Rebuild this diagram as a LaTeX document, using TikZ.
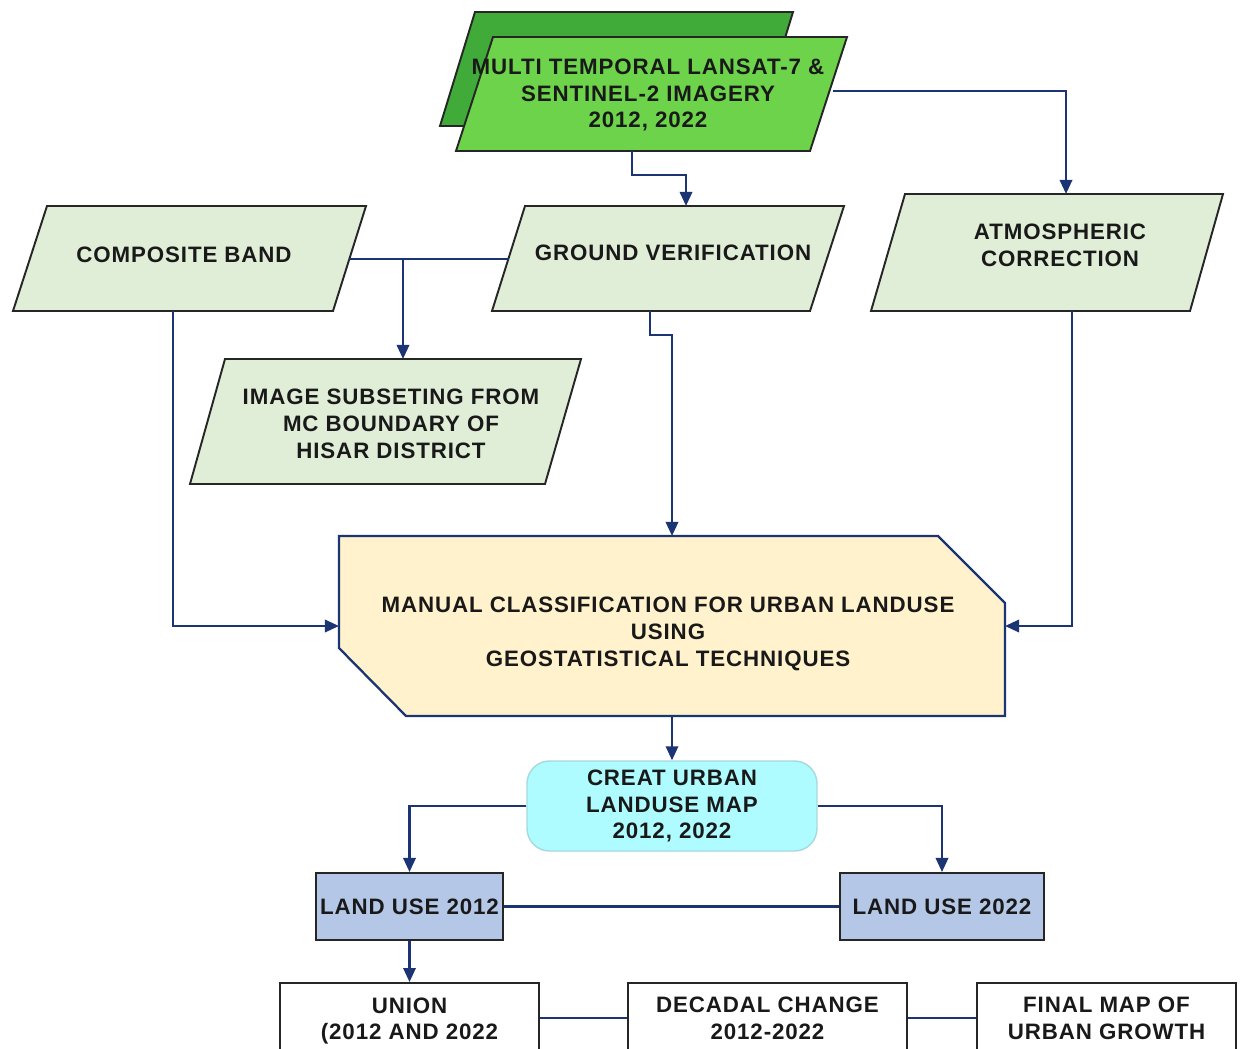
\documentclass[tikz,border=0pt]{standalone}
\usepackage{fontspec}
\setmainfont{Liberation Sans}[LetterSpace=4]
\usetikzlibrary{arrows.meta}
\definecolor{navy}{HTML}{1B3474}
\definecolor{gdark}{HTML}{41AB3A}
\definecolor{glight}{HTML}{6DD34A}
\definecolor{pale}{HTML}{E0EED8}
\definecolor{cream}{HTML}{FFF2CC}
\definecolor{cyanfill}{HTML}{AEFCFF}
\definecolor{cyanline}{HTML}{A6D9DD}
\definecolor{lublue}{HTML}{B4C7E7}
\begin{document}
\begin{tikzpicture}[x=0.02cm,y=-0.02cm,
  lbl/.style={font=\fontsize{12.7}{15.3}\selectfont\bfseries, align=center, inner sep=0pt, text=black!90},
  shp/.style={draw=black!85, line width=1.1pt},
  conn/.style={draw=navy, line width=1.4pt},
  arr/.style={conn, -{Triangle[width=7pt,length=8pt]}},
  boxnode/.style={lbl, draw=black!85, line width=1.1pt, minimum height=1.4cm}]
\useasboundingbox (0,0) rectangle (1240,1048);
\clip (0,0) rectangle (1240,1048);

% top imagery (stacked parallelograms)
\draw[shp, fill=gdark] (475,12) -- (793,12) -- (758,126) -- (440,126) -- cycle;
\draw[shp, fill=glight] (493,37) -- (847,37) -- (810,151) -- (456,151) -- cycle;
\node[lbl] (multi) at (648,95) {MULTI TEMPORAL LANSAT-7 \&\\SENTINEL-2 IMAGERY\\2012, 2022};
\coordinate (m-s) at (632,151);
\coordinate (m-e) at (833,91);

% composite band
\draw[shp, fill=pale] (47,206) -- (366,206) -- (333,311) -- (13,311) -- cycle;
\node[lbl] (cb) at (184,255) {COMPOSITE BAND};
\coordinate (cb-e) at (349,259);
\coordinate (cb-s) at (173,311);

% ground verification
\draw[shp, fill=pale] (525,206) -- (844,206) -- (810,311) -- (492,311) -- cycle;
\node[lbl] (gv) at (673,253) {GROUND VERIFICATION};
\coordinate (gv-n) at (686,206);
\coordinate (gv-w) at (509,259);
\coordinate (gv-s) at (650,311);

% atmospheric correction
\draw[shp, fill=pale] (905,194) -- (1223,194) -- (1190,311) -- (871,311) -- cycle;
\node[lbl] (ac) at (1060,245) {ATMOSPHERIC\\CORRECTION};
\coordinate (ac-n) at (1066,194);
\coordinate (ac-s) at (1072,311);

% image subseting
\draw[shp, fill=pale] (225,359) -- (581,359) -- (545,484) -- (190,484) -- cycle;
\node[lbl] (is) at (391,424) {IMAGE SUBSETING FROM\\MC BOUNDARY OF\\HISAR DISTRICT};
\coordinate (is-n) at (403,359);
\coordinate (br) at (403,259);

% manual classification
\draw[draw=navy, line width=1.3pt, fill=cream] (339,536) -- (938,536) -- (1005,603) -- (1005,716) -- (406,716) -- (339,648) -- cycle;
\node[lbl] (mc) at (668,634) {MANUAL CLASSIFICATION FOR URBAN LANDUSE\\USING\\GEOSTATISTICAL TECHNIQUES};
\coordinate (mc-n) at (672,536);
\coordinate (mc-w) at (339,626);
\coordinate (mc-e) at (1005,626);
\coordinate (mc-s) at (672,716);

% creat urban landuse map
\node[lbl, draw=cyanline, line width=0.8pt, fill=cyanfill, rounded corners=0.45cm,
      minimum width=5.8cm, minimum height=1.8cm] (cu) at (672,806)
      {CREAT URBAN\\LANDUSE MAP\\2012, 2022};

% land use boxes
\node[boxnode, fill=lublue, minimum width=3.74cm, minimum height=1.34cm] (lu12) at (409.5,906.5) {LAND USE 2012};
\node[boxnode, fill=lublue, minimum width=4.08cm, minimum height=1.34cm] (lu22) at (942,906.5) {LAND USE 2022};

% bottom boxes
\node[boxnode, fill=white, minimum width=5.18cm, minimum height=1.52cm] (un) at (409.5,1021) {UNION\\(2012 AND 2022};
\node[boxnode, fill=white, minimum width=5.58cm] (dc) at (767.5,1018) {DECADAL CHANGE\\2012-2022};
\node[boxnode, fill=white, minimum width=5.18cm] (fm) at (1106.5,1018) {FINAL MAP OF\\URBAN GROWTH};

% connectors
\draw[arr] (m-s) -- ++(0,24) -| (gv-n);
\draw[arr] (m-e) -| (ac-n);
\draw[conn] (cb-e) -- (gv-w);
\draw[arr] (br) -- (is-n);
\draw[arr] (cb-s) |- (mc-w);
\draw[arr] (gv-s) -- ++(0,24) -| (mc-n);
\draw[arr] (ac-s) |- (mc-e);
\draw[arr] (mc-s) -- (cu.north);
\draw[arr] (cu.west) -| (lu12.north);
\draw[arr] (cu.east) -| (lu22.north);
\draw[conn] (lu12.east) -- (lu22.west);
\draw[arr] (lu12.south) -- (un.north);
\draw[conn] (dc.west) -- (dc.west -| un.east);
\draw[conn] (dc.east) -- (fm.west);
\end{tikzpicture}
\end{document}
